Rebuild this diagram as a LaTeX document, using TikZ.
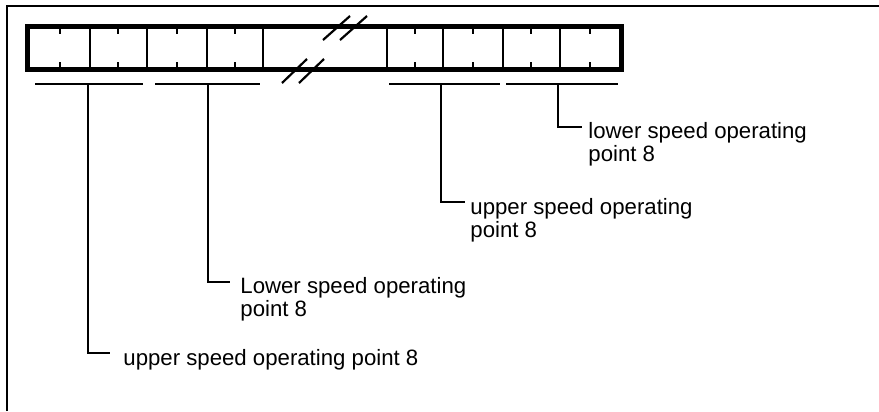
\documentclass[tikz,border=0pt]{standalone}
\usepackage{fontspec}
\setmainfont{Liberation Sans}
\usetikzlibrary{positioning, calc}

\begin{document}
\begin{tikzpicture}[
        x=0.455pt, y=-0.455pt,
        frameline/.style={line width=1pt, draw=black},
        regbox/.style={line width=1.9pt, draw=black},
        cellline/.style={line width=0.6pt, draw=black},
        breakline/.style={line width=1pt, draw=black},
        groupline/.style={line width=0.6pt, draw=black},
        opnote/.style={anchor=north west, inner sep=0pt, align=left, font=\fontsize{10.1}{10.5}\selectfont}
    ]
        \useasboundingbox (0,0) rectangle (879,411);

        % Frame
        \draw[frameline] (7,411) -- (7,6) -- (879,6);

        % Register
        \draw[regbox] (27.5,26.5) rectangle (621.5,69.5);
        \foreach \x in {90,147,207,263,387,443,503,560}
            \draw[cellline] (\x,26.5) -- (\x,69.5);
        \foreach \x in {60,118,177,235,415,473,531,590} {
            \draw[cellline] (\x,26.5) -- (\x,34);
            \draw[cellline] (\x,62) -- (\x,69.5);
        }

        % Break marks
        \draw[breakline] (323,40) -- (350,16);
        \draw[breakline] (340,40) -- (367,16);
        \draw[breakline] (282,83) -- (307,59);
        \draw[breakline] (299,83) -- (324,59);

        % Groups
        \draw[groupline] (35,84) -- (143,84);
        \draw[groupline] (155,84) -- (260,84);
        \draw[groupline] (389,84) -- (500,84);
        \draw[groupline] (506,84) -- (618,84);
        \coordinate (g1) at (88,84);
        \coordinate (g2) at (208,84);
        \coordinate (g3) at (441,84);
        \coordinate (g4) at (558,84);

        % Nodes
        \coordinate (e1) at (110,353);
        \coordinate (e2) at (230,282);
        \coordinate (e3) at (465,202);
        \coordinate (e4) at (582,127);
        \node[opnote] (upper1) at (123,349) {upper speed operating point 8};
        \node[opnote] (lower1) at (240,277) {Lower speed operating\\point 8};
        \node[opnote] (upper2) at (470,198) {upper speed operating\\point 8};
        \node[opnote] (lower2) at (588,122) {lower speed operating\\point 8};

        % Edges
        \draw[groupline] (g1) |- (e1);
        \draw[groupline] (g2) |- (e2);
        \draw[groupline] (g3) |- (e3);
        \draw[groupline] (g4) |- (e4);

    \end{tikzpicture}
\end{document}
